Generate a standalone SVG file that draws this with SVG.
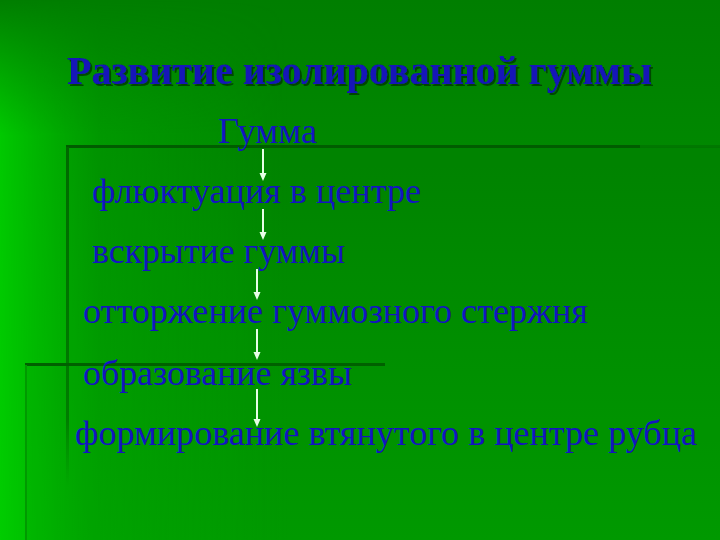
<svg xmlns="http://www.w3.org/2000/svg" width="720" height="540" viewBox="0 0 720 540">
  <defs>
    <linearGradient id="bgV" x1="0" y1="0" x2="0" y2="1">
      <stop offset="0" stop-color="#007e00"/>
      <stop offset="0.5" stop-color="#009000"/>
      <stop offset="1" stop-color="#00a000"/>
    </linearGradient>
    <linearGradient id="bgH" x1="0" y1="0" x2="1" y2="0">
      <stop offset="0" stop-color="#00d400" stop-opacity="0.85"/>
      <stop offset="0.14" stop-color="#00c000" stop-opacity="0.3"/>
      <stop offset="0.4" stop-color="#00c000" stop-opacity="0"/>
    </linearGradient>
    <linearGradient id="bgLeftFade" x1="0" y1="0" x2="0" y2="1">
      <stop offset="0" stop-color="#000"/>
      <stop offset="0.25" stop-color="#fff"/>
      <stop offset="1" stop-color="#fff"/>
    </linearGradient>
    <mask id="leftMask">
      <rect x="0" y="0" width="720" height="540" fill="url(#bgLeftFade)"/>
    </mask>
    <linearGradient id="edgeV" x1="0" y1="0" x2="0" y2="1">
      <stop offset="0" stop-color="#006800"/>
      <stop offset="0.8" stop-color="#007c00"/>
      <stop offset="1" stop-color="#008c00" stop-opacity="0"/>
    </linearGradient>
    <filter id="shadow" x="-5%" y="-20%" width="110%" height="150%">
      <feDropShadow dx="2" dy="2" stdDeviation="0.6" flood-color="#003000" flood-opacity="0.75"/>
    </filter>
    <style>
      .title { font-family: "Liberation Serif", "Times New Roman", serif; font-weight: bold; font-size: 40px; fill: #1212b8; }
      .step { font-family: "Liberation Serif", "Times New Roman", serif; font-size: 36px; fill: #1414c0; }
      .arrow { stroke: #e6ffe6; stroke-width: 2; fill: none; }
      .head { fill: #e6ffe6; }
    </style>
  </defs>

  <!-- background -->
  <rect x="0" y="0" width="720" height="540" fill="url(#bgV)"/>
  <rect x="0" y="0" width="720" height="540" fill="url(#bgH)" mask="url(#leftMask)"/>

  <!-- decorative panels -->
  <g id="panels">
    <rect x="68" y="147" width="652" height="393" fill="#003000" opacity="0.06"/>
    <rect x="25" y="364" width="43" height="176" fill="#003000" opacity="0.06"/>
    <rect x="66" y="145" width="574" height="3" fill="#005c00"/>
    <rect x="640" y="145" width="80" height="3" fill="#006e00" opacity="0.6"/>
    <rect x="66" y="147" width="3" height="340" fill="url(#edgeV)"/>
    <rect x="25" y="363" width="360" height="3" fill="#006000"/>
    <rect x="25" y="365" width="2" height="175" fill="#009a00"/>
  </g>

  <!-- title -->
  <g id="title">
    <text class="title" x="67" y="84" textLength="585" lengthAdjust="spacingAndGlyphs" filter="url(#shadow)">Развитие изолированной гуммы</text>
  </g>

  <!-- nodes -->
  <g id="n1"><text class="step" x="218" y="143" textLength="99" lengthAdjust="spacingAndGlyphs">Гумма</text></g>
  <g id="n2"><text class="step" x="92" y="203" textLength="329" lengthAdjust="spacingAndGlyphs">флюктуация в центре</text></g>
  <g id="n3"><text class="step" x="92" y="263" textLength="253" lengthAdjust="spacingAndGlyphs">вскрытие гуммы</text></g>
  <g id="n4"><text class="step" x="83" y="323" textLength="505" lengthAdjust="spacingAndGlyphs">отторжение гуммозного стержня</text></g>
  <g id="n5"><text class="step" x="83" y="385" textLength="269" lengthAdjust="spacingAndGlyphs">образование язвы</text></g>
  <g id="n6"><text class="step" x="75" y="445" textLength="622" lengthAdjust="spacingAndGlyphs">формирование втянутого в центре рубца</text></g>

  <!-- connectors -->
  <g id="connectors">
    <line class="arrow" x1="263" y1="149" x2="263" y2="174"/>
    <path class="head" d="M259.5,173 L266.5,173 L263,181 Z"/>
    <line class="arrow" x1="263" y1="209" x2="263" y2="233"/>
    <path class="head" d="M259.5,232 L266.5,232 L263,240 Z"/>
    <line class="arrow" x1="257" y1="269" x2="257" y2="293"/>
    <path class="head" d="M253.5,292 L260.5,292 L257,300 Z"/>
    <line class="arrow" x1="257" y1="329" x2="257" y2="353"/>
    <path class="head" d="M253.5,352 L260.5,352 L257,360 Z"/>
    <line class="arrow" x1="257" y1="389" x2="257" y2="420"/>
    <path class="head" d="M253.5,419 L260.5,419 L257,427 Z"/>
  </g>
</svg>
